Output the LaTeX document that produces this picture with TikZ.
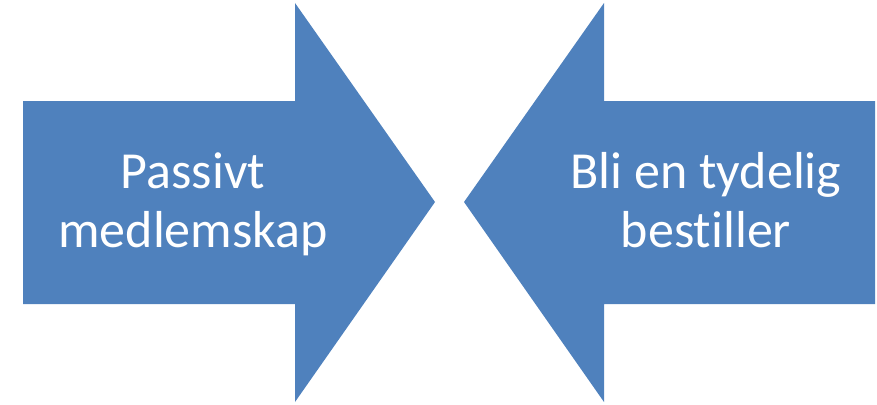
\documentclass[tikz,border=0pt]{standalone}
\usepackage{fontspec}
\setmainfont{Carlito}[Ligatures=NoCommon]
\definecolor{arrowblue}{HTML}{4F81BD}
\begin{document}
\begin{tikzpicture}[x=1pt,y=-1pt,
  arrowshape/.style={fill=arrowblue,draw=none},
  label/.style={text=white,align=center,inner sep=0pt,anchor=base,
    font=\fontsize{52}{59}\selectfont}]
\useasboundingbox (0,0) rectangle (877,404);
\fill[arrowshape] (23,101) -- (295,101) -- (295,3) -- (435,202) -- (295,402) -- (295,304) -- (23,304) -- cycle;
\fill[arrowshape] (875,101) -- (604,101) -- (604,3) -- (464,202) -- (604,402) -- (604,304) -- (875,304) -- cycle;
\node[label] (left) at (193,247) {Passivt\\medlemskap};
\node[label] (right) at (706,247) {Bli en tydelig\\bestiller};
\end{tikzpicture}
\end{document}
